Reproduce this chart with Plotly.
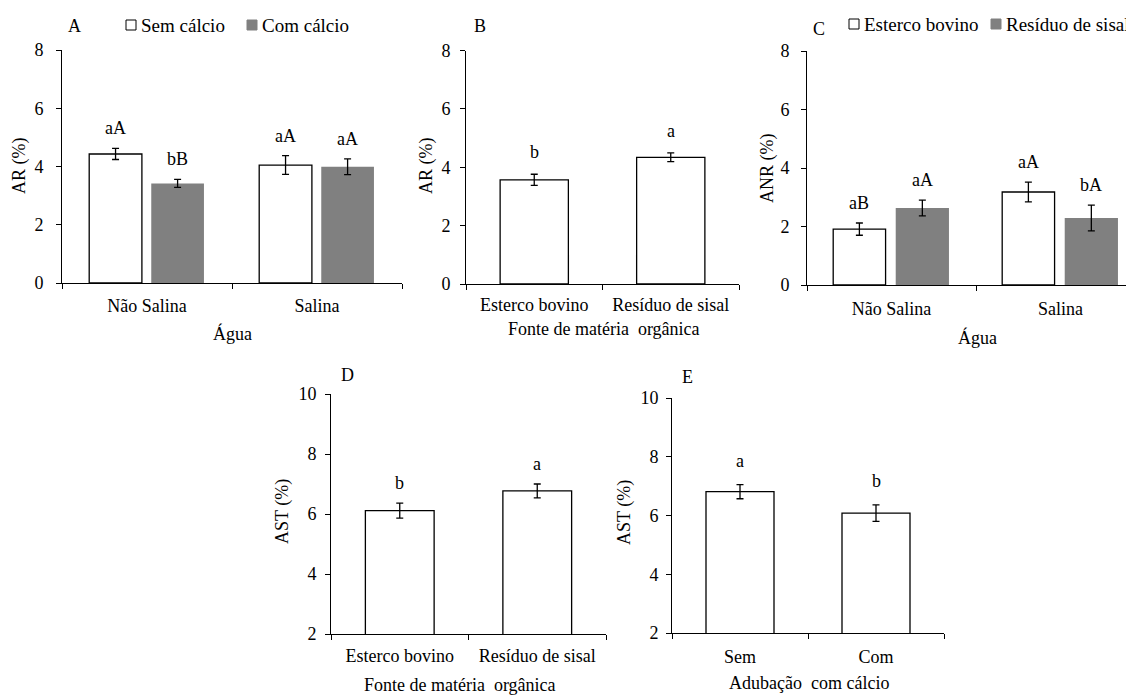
import plotly.graph_objects as go

# ---------------- data ----------------
agua_cats = ["Não Salina", "Salina"]
fonte_cats = ["Esterco bovino", "Resíduo de sisal"]
calcio_cats = ["Sem", "Com"]

# Panel A: AR (%) by water, with/without calcium
a_sem_vals = [4.43, 4.05]
a_sem_err = [0.19, 0.32]
a_sem_letters = ["aA", "aA"]
a_com_vals = [3.42, 3.99]
a_com_err = [0.14, 0.27]
a_com_letters = ["bB", "aA"]

# Panel B: AR (%) by organic matter source
b_vals = [3.57, 4.34]
b_err = [0.19, 0.15]
b_letters = ["b", "a"]

# Panel C: ANR (%) by water, by organic source
c_est_vals = [1.91, 3.18]
c_est_err = [0.21, 0.34]
c_est_letters = ["aB", "aA"]
c_res_vals = [2.63, 2.29]
c_res_err = [0.27, 0.44]
c_res_letters = ["aA", "bA"]

# Panel D: AST (%) by organic source
d_vals = [6.11, 6.77]
d_err = [0.25, 0.23]
d_letters = ["b", "a"]

# Panel E: AST (%) by calcium
e_vals = [6.81, 6.08]
e_err = [0.24, 0.28]
e_letters = ["a", "b"]

# ---------------- styling ----------------
# page body has an 8px default margin; lay out in page pixels and subtract it
PAGE_W, PAGE_H = 1134, 696
OFF = 8
W, H = PAGE_W - OFF, PAGE_H - OFF
FONT = "Liberation Serif"
GRAY = "#808080"
WHITE_LINE = dict(color="black", width=1.3)
FS = 18


def xd(a, b):
    return [(a - OFF) / W, min(1.0, (b - OFF) / W)]


def yd(top, bottom):
    return [1 - (bottom - OFF) / H, 1 - (top - OFF) / H]


def ex(x, y):
    return (x - OFF) / W, 1 - (y - OFF) / H


fig = go.Figure()

ERR = dict(type="data", color="black", thickness=1.3, width=3.5, visible=True)
annotations = []


def add_bars(xa, ya, cats, vals, errs, letters, color, offset, width, yshift):
    line = WHITE_LINE if color == "white" else dict(color=color, width=0)
    fig.add_trace(go.Bar(
        x=cats, y=vals, xaxis=xa, yaxis=ya,
        marker=dict(color=color, line=line),
        error_y=dict(ERR, array=errs),
        offset=offset, width=width, showlegend=False,
    ))
    for i, (v, e, t) in enumerate(zip(vals, errs, letters)):
        annotations.append(dict(
            x=i + offset + width / 2, y=v + e,
            xref=xa, yref=ya, text=t, showarrow=False,
            yanchor="middle", yshift=yshift,
            font=dict(family=FONT, size=FS, color="black"),
        ))


# A
add_bars("x", "y", agua_cats, a_sem_vals, a_sem_err, a_sem_letters, "white", -0.34, 0.31, 20)
add_bars("x", "y", agua_cats, a_com_vals, a_com_err, a_com_letters, GRAY, 0.025, 0.31, 20)
# B
add_bars("x2", "y2", fonte_cats, b_vals, b_err, b_letters, "white", -0.25, 0.5, 22)
# C
add_bars("x3", "y3", agua_cats, c_est_vals, c_est_err, c_est_letters, "white", -0.345, 0.31, 20)
add_bars("x3", "y3", agua_cats, c_res_vals, c_res_err, c_res_letters, GRAY, 0.025, 0.315, 20)
# D
add_bars("x4", "y4", fonte_cats, d_vals, d_err, d_letters, "white", -0.25, 0.5, 20)
# E
add_bars("x5", "y5", calcio_cats, e_vals, e_err, e_letters, "white", -0.25, 0.5, 24)

tickfont = dict(family=FONT, size=FS, color="black")


def xaxis(dom, anchor, standoff, rng=None):
    d = dict(domain=xd(*dom), anchor=anchor, type="category",
             showline=True, linecolor="black", linewidth=1,
             ticks="outside", ticklen=5, tickcolor="black", tickwidth=1,
             tickson="boundaries", showgrid=False, zeroline=False,
             tickfont=tickfont, ticklabelstandoff=standoff, fixedrange=True)
    d["range"] = rng if rng is not None else [-0.5, 1.5]
    return d


def yaxis(dom, anchor, rng, standoff):
    return dict(domain=yd(*dom), anchor=anchor, range=rng, dtick=2,
                showline=True, linecolor="black", linewidth=1,
                ticks="outside", ticklen=5, tickcolor="black", tickwidth=1,
                showgrid=False, zeroline=False, tickfont=tickfont,
                ticklabelstandoff=standoff, fixedrange=True)


c_width_px = 169.0
fig.update_layout(
    width=W, height=H,
    margin=dict(l=0, r=0, t=0, b=0, autoexpand=False),
    paper_bgcolor="white", plot_bgcolor="white",
    barmode="group",
    font=dict(family=FONT, size=FS, color="black"),
    xaxis=xaxis((62, 402), "y", 6),
    yaxis=yaxis((50, 283), "x", [0, 8], 9),
    xaxis2=xaxis((466, 739), "y2", 4),
    yaxis2=yaxis((50.5, 284), "x2", [0, 8], 6),
    xaxis3=xaxis((807, 1134), "y3", 7, [-0.5, -0.5 + (1134 - 807) / c_width_px]),
    yaxis3=yaxis((51, 285), "x3", [0, 8], 8),
    xaxis4=xaxis((331, 606), "y4", 5),
    yaxis4=yaxis((394, 634), "x4", [2, 10], 5),
    xaxis5=xaxis((672, 944), "y5", 7),
    yaxis5=yaxis((398, 633), "x5", [2, 10], 4),
)


def paper_text(text, x, y, size=FS, angle=0, xanchor="center"):
    px, py = ex(x, y)
    annotations.append(dict(x=px, y=py, xref="paper", yref="paper", text=text,
                            showarrow=False, textangle=angle, xanchor=xanchor,
                            yanchor="middle",
                            font=dict(family=FONT, size=size, color="black")))


# panel labels
paper_text("A", 74, 26, 18)
paper_text("B", 480, 26, 18)
paper_text("C", 819, 29, 18)
paper_text("D", 347, 375, 18)
paper_text("E", 687, 377, 18)

# axis titles
paper_text("AR (%)", 20, 166, FS, -90)
paper_text("AR (%)", 427, 166, FS, -90)
paper_text("ANR (%)", 768, 168, FS, -90)
paper_text("AST (%)", 282, 512, FS, -90)
paper_text("AST (%)", 624, 512, FS, -90)
paper_text("Água", 232, 333)
paper_text("Fonte de matéria  orgânica", 604, 329)
paper_text("Água", 977, 337)
paper_text("Fonte de matéria  orgânica", 460, 685)
paper_text("Adubação  com cálcio", 809, 683)

# legends (A and C)
shapes = []


def legend_item(x0, yc, color, label):
    bx, by = ex(x0, yc)
    shapes.append(dict(type="rect", xref="paper", yref="paper",
                       x0=bx, x1=bx + 10 / W,
                       y0=by - 5 / H, y1=by + 5 / H,
                       fillcolor=color,
                       line=dict(color="black" if color == "white" else color, width=1)))
    paper_text(label, x0 + 13, yc, 19, 0, "left")


legend_item(126, 25, "white", "Sem cálcio")
legend_item(247, 25, GRAY, "Com cálcio")
legend_item(849, 24, "white", "Esterco bovino")
legend_item(991, 24, GRAY, "Resíduo de sisal")

fig.update_layout(annotations=annotations, shapes=shapes)

fig.write_html("out.html")
